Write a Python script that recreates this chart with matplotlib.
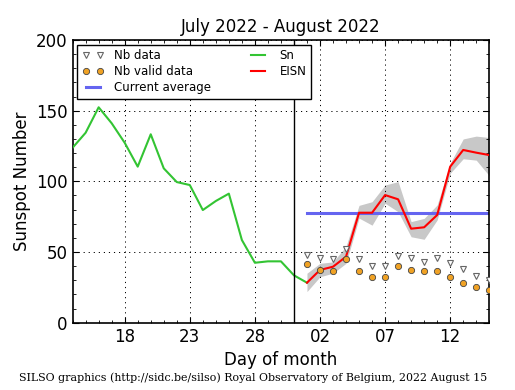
import matplotlib
matplotlib.use("Agg")
import matplotlib.pyplot as plt
from matplotlib.ticker import MultipleLocator, FixedLocator
import numpy as np

# day index: July days as-is, August days as 31 + day
sn_days = list(range(14, 33))
sn_values = [123.8, 134.4, 152.4, 141.1, 127.3, 110.4, 133.3, 109.2, 99.5, 97.4,
             79.7, 86.1, 91.3, 58.5, 42.4, 43.4, 43.4, 33.5, 28.3]

eisn_days = list(range(32, 47))
eisn_values = [28.3, 37.3, 39.6, 46.7, 77.8, 77.8, 90.3, 87.3, 66.5, 67.5,
               76.2, 110.4, 122.2, 120.3, 118.6]
eisn_upper = [35, 42, 43, 54, 83, 85.6, 97.4, 99.8, 71.5, 73.8,
              83.3, 112.8, 130, 132, 131]
eisn_lower = [22, 32.5, 35, 42, 74, 69, 84.5, 78.5, 60.8, 59,
              72.7, 105.7, 116, 115, 104]

nb_data = [48, 45.5, 45, 52, 45, 40, 40, 47, 45.5, 42.7, 45.5, 42, 38, 33, 30]
nb_valid = [41.5, 37.3, 36.8, 44.8, 36.8, 32.5, 32.5, 40.3, 37.3, 36.8, 36.8, 32.5, 28.3, 25.5, 23.1]

current_average = 77.4
month_boundary = 31

tick_days = [18, 23, 28, 33, 38, 43]
tick_labels = ["18", "23", "28", "02", "07", "12"]

fig = plt.figure(figsize=(5.15, 3.9), dpi=100)
ax = fig.add_axes([0.141, 0.1726, 0.809, 0.7248])

ax.fill_between(eisn_days, eisn_lower, eisn_upper, color="#c8c8c8", linewidth=0, zorder=1)
h_nb, = ax.plot(eisn_days, nb_data, "v", markersize=4.5, markerfacecolor="white",
                markeredgecolor="#666666", markeredgewidth=0.8, linestyle="none", zorder=4)
h_valid, = ax.plot(eisn_days, nb_valid, "o", markersize=4.5, markerfacecolor="#f0a224",
                   markeredgecolor="#444444", markeredgewidth=0.6, linestyle="none", zorder=4)
h_avg, = ax.plot([eisn_days[0], eisn_days[-1]], [current_average, current_average],
                 color="#6565f0", linewidth=2.2, zorder=2)
h_sn, = ax.plot(sn_days, sn_values, color="#33c433", linewidth=1.5, zorder=3)
h_eisn, = ax.plot(eisn_days, eisn_values, color="red", linewidth=1.5, zorder=3)
ax.axvline(month_boundary, color="black", linewidth=1.0, zorder=3)

ax.set_xlim(14, 46)
ax.set_ylim(0, 200)
ax.xaxis.set_major_locator(FixedLocator(tick_days))
ax.set_xticklabels(tick_labels)
ax.xaxis.set_minor_locator(MultipleLocator(1))
ax.yaxis.set_major_locator(MultipleLocator(50))
ax.yaxis.set_minor_locator(MultipleLocator(10))
ax.tick_params(which="both", direction="in", top=True, right=True, labelsize=12)
ax.tick_params(which="major", length=4, width=0.8)
ax.tick_params(which="minor", length=2, width=0.6)
ax.grid(True, which="major", color="black", linestyle=(0, (1.2, 4)), linewidth=0.7)
for s in ax.spines.values():
    s.set_linewidth(1.2)

ax.set_title("July 2022 - August 2022", fontsize=12)
ax.set_xlabel("Day of month", fontsize=12)
ax.set_ylabel("Sunspot Number", fontsize=12)

leg = ax.legend([h_nb, h_valid, h_avg, h_sn, h_eisn],
                ["Nb data", "Nb valid data", "Current average", "Sn", "EISN"],
                loc="upper left", ncol=2, numpoints=2, fontsize=8.5, fancybox=False,
                framealpha=1, edgecolor="black", borderaxespad=0.4,
                handlelength=1.8, handletextpad=0.9, labelspacing=0.25,
                columnspacing=3.1)
leg.get_frame().set_linewidth(1.0)

fig.text(0.492, 0.022, "SILSO graphics (http://sidc.be/silso) Royal Observatory of Belgium, 2022 August 15",
         ha="center", fontsize=7.9, family="DejaVu Serif")

fig.savefig("out.png", dpi=100)
